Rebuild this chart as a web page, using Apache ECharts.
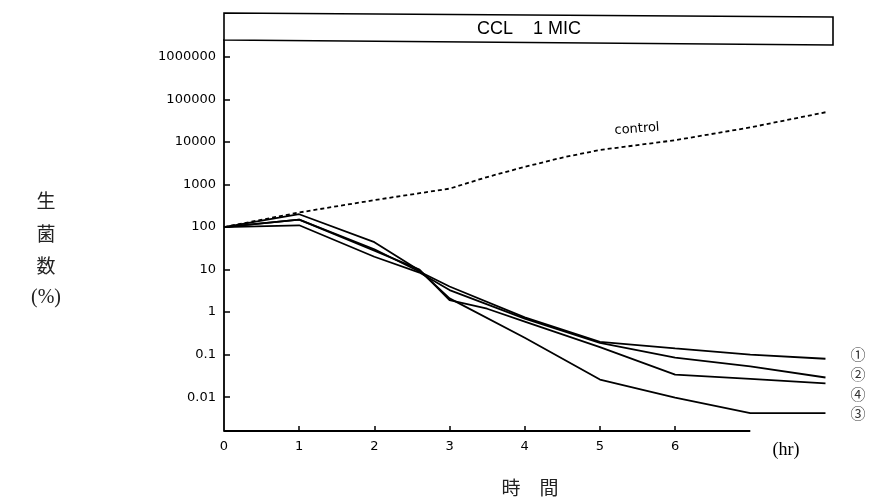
<!DOCTYPE html>
<html>
<head>
<meta charset="utf-8">
<script src="https://cdn.jsdelivr.net/npm/echarts@6/dist/echarts.min.js"></script>
<style>
html,body{margin:0;padding:0;background:#fff;}
#c{width:873px;height:503px;}
</style>
</head>
<body>
<div id="c"></div>
<script>
// ---- data (hours, viable count %) ----
var hours1 = [0, 1, 2, 3, 4, 5, 6, 7, 8];
var s1 = [100, 150, 30, 4, 0.75, 0.2, 0.14, 0.1, 0.08];            // ①
var hours2 = [0, 1, 2, 2.6, 3, 4, 5, 6, 7, 8];
var s2 = [100, 110, 20, 8.5, 3.3, 0.7, 0.19, 0.085, 0.053, 0.029]; // ②
var hours3 = [0, 1, 2, 2.6, 3, 4, 5, 6, 7, 8];
var s3 = [100, 200, 44, 9.5, 2.1, 0.25, 0.026, 0.0098, 0.0042, 0.0042]; // ③
var hours4 = [0, 1, 2, 2.6, 3, 3.5, 4, 5, 6, 7, 8];
var s4 = [100, 150, 28, 10, 1.9, 1.2, 0.6, 0.15, 0.034, 0.027, 0.021]; // ④
var hoursC = [0, 1, 2, 3, 3.5, 4, 4.5, 5, 6, 7, 8];
var control = [100, 220, 430, 800, 1500, 2600, 4300, 6500, 11000, 22000, 50000];

var xTickLabels = [0, 1, 2, 3, 4, 5, 6];
var xTicks = [1, 2, 3, 4, 5, 6];
var yTickLabels = ['0.01', '0.1', '1', '10', '100', '1000', '10000', '100000', '1000000'];

var yMin = 0.0016, yMax = 2.5e6;
var xMax = 8.1, xAxisEnd = 7;

function pairs(xs, ys) { return xs.map(function (x, i) { return [x, ys[i]]; }); }

var chart = echarts.init(document.getElementById('c'), null, {renderer: 'canvas'});
var lineStyle = {color: '#000', width: 1.8};
function mk(name, xs, ys) {
  return {name: name, type: 'line', data: pairs(xs, ys), symbol: 'none', smooth: false,
          lineStyle: lineStyle, silent: true};
}
var series = [
  mk('①', hours1, s1),
  mk('②', hours2, s2),
  mk('③', hours3, s3),
  mk('④', hours4, s4),
  {name: 'control', type: 'line', data: pairs(hoursC, control), symbol: 'none', silent: true,
   lineStyle: {color: '#000', width: 1.8, type: [4, 3]},
   markLine: {symbol: ['none', 'none'], silent: true, animation: false,
     label: {show: false}, lineStyle: {color: '#000', type: 'solid', width: 2},
     data: [[{coord: [0, yMin]}, {coord: [xAxisEnd, yMin]}]]}}
];

var serif = '"Liberation Serif","DejaVu Serif",serif';
var cjk = '"Noto Sans CJK JP","Noto Sans CJK SC",sans-serif';
var tickFont = '"DejaVu Sans",sans-serif';

function isPow10(v) {
  var l = Math.log10(v);
  return Math.abs(l - Math.round(l)) < 1e-6;
}

chart.setOption({
  animation: false,
  backgroundColor: '#fff',
  grid: {left: 224, right: 873 - 833, top: 40, bottom: 72, containLabel: false},
  xAxis: {
    type: 'value', min: 0, max: xMax, interval: 1,
    axisLine: {show: false},
    splitLine: {show: false},
    axisTick: {show: true, inside: true, length: 5, customValues: xTicks,
               lineStyle: {color: '#000', width: 1.5}},
    axisLabel: {customValues: xTickLabels, margin: 9, color: '#000', fontSize: 13,
                fontFamily: tickFont,
                formatter: function (v) { return String(v); }}
  },
  yAxis: {
    type: 'log', logBase: 10, min: yMin, max: yMax,
    axisLine: {show: true, lineStyle: {color: '#000', width: 1.8}},
    splitLine: {show: false},
    minorTick: {show: false},
    axisTick: {show: true, inside: true, length: 6, lineStyle: {color: '#000', width: 1.5}},
    axisLabel: {margin: 8, color: '#000', fontSize: 13, fontFamily: tickFont,
                showMinLabel: false, showMaxLabel: false,
                formatter: function (v) {
                  if (!isPow10(v)) return '';
                  var lg = Math.round(Math.log10(v));
                  return yTickLabels[lg + 2] || '';
                }}
  },
  series: series,
  graphic: [
    {type: 'polygon', shape: {points: [[224, 13], [833, 17], [833, 45], [224, 40]]},
     style: {fill: '#fff', stroke: '#000', lineWidth: 1.6}, z: 100},
    {type: 'text', x: 529, y: 29, z: 101,
     style: {text: 'CCL    1 MIC', font: '18px "Liberation Sans","DejaVu Sans",sans-serif',
             fill: '#000', align: 'center', verticalAlign: 'middle'}},
    {type: 'text', x: 637, y: 129, rotation: 4 * Math.PI / 180, z: 101,
     style: {text: 'control', font: '13px "DejaVu Sans",sans-serif', fill: '#000',
             align: 'center', verticalAlign: 'middle'}},
    {type: 'text', x: 786, y: 450,
     style: {text: '(hr)', font: '18px ' + serif, fill: '#000', align: 'center', verticalAlign: 'middle'}},
    {type: 'text', x: 530, y: 488,
     style: {text: '時　間', font: '19px ' + cjk, fill: '#222', align: 'center', verticalAlign: 'middle'}},
    {type: 'text', x: 46, y: 201,
     style: {text: '生', font: '19px ' + cjk, fill: '#222', align: 'center', verticalAlign: 'middle'}},
    {type: 'text', x: 46, y: 234,
     style: {text: '菌', font: '19px ' + cjk, fill: '#222', align: 'center', verticalAlign: 'middle'}},
    {type: 'text', x: 46, y: 266,
     style: {text: '数', font: '19px ' + cjk, fill: '#222', align: 'center', verticalAlign: 'middle'}},
    {type: 'text', x: 46, y: 298,
     style: {text: '(%)', font: '20px ' + serif, fill: '#222', align: 'center', verticalAlign: 'middle'}},
    {type: 'text', x: 858, y: 354,
     style: {text: '①', font: '15px ' + cjk, fill: '#333', align: 'center', verticalAlign: 'middle'}},
    {type: 'text', x: 858, y: 374,
     style: {text: '②', font: '15px ' + cjk, fill: '#333', align: 'center', verticalAlign: 'middle'}},
    {type: 'text', x: 858, y: 394,
     style: {text: '④', font: '15px ' + cjk, fill: '#333', align: 'center', verticalAlign: 'middle'}},
    {type: 'text', x: 858, y: 413,
     style: {text: '③', font: '15px ' + cjk, fill: '#333', align: 'center', verticalAlign: 'middle'}}
  ]
});
</script>
</body>
</html>
